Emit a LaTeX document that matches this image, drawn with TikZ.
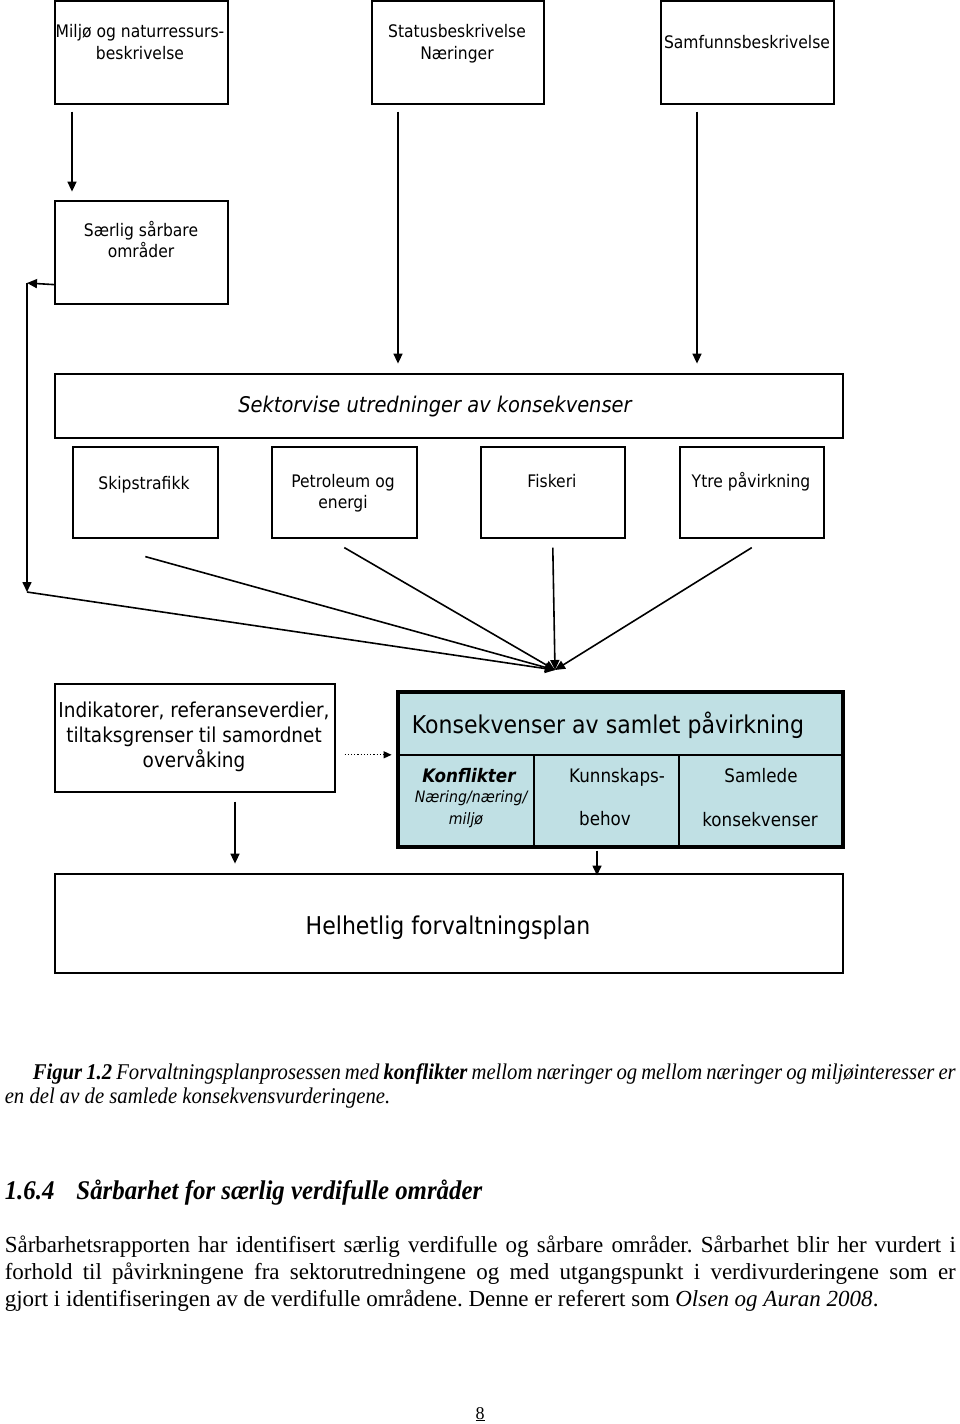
\documentclass[tikz,border=0pt]{standalone}
\usepackage{fontspec}
\setmainfont{Liberation Serif}
\newfontfamily\boxfont[FakeStretch=0.9]{DejaVu Sans}
\newfontfamily\capfont[FakeStretch=0.92]{Liberation Serif}
\usetikzlibrary{arrows.meta}
\definecolor{konsblue}{RGB}{192,224,228}
\frenchspacing

\begin{document}
\begin{tikzpicture}[x=1pt, y=-1pt, line width=1.6pt,
    box/.style={draw, anchor=north west, inner sep=0pt},
    lbl/.style={font=\boxfont\fontsize{17.3}{21}\selectfont, align=center, inner sep=0pt, anchor=base},
    big/.style={font=\boxfont\fontsize{24.5}{30}\selectfont, inner sep=0pt, anchor=base},
    cell/.style={font=\boxfont\fontsize{18.6}{23}\selectfont, inner sep=0pt, anchor=base},
    body/.style={font=\fontsize{23}{27}\selectfont, inner sep=0pt, anchor=base west},
    captext/.style={font=\capfont\fontsize{22.5}{24}\selectfont\itshape, inner sep=0pt, anchor=base west},
    arr/.style={-{Triangle[length=10pt,width=9pt]}}]
  \useasboundingbox (0,0) rectangle (960,1424);

  % top row
  \node[box, minimum width=173pt, minimum height=103pt] (miljo) at (54,0) {};
  \node[box, minimum width=172pt, minimum height=103pt] (status) at (371,0) {};
  \node[box, minimum width=173pt, minimum height=103pt] (samf) at (660,0) {};
  \node[box, minimum width=173pt, minimum height=103pt] (saerlig) at (54,200) {};
  \node[lbl] (miljoT) at (140,59) {Miljø og naturressurs-\\beskrivelse};
  \node[lbl] (statusT) at (457,59) {Statusbeskrivelse\\Næringer};
  \node[lbl] (samfT) at (747,48) {Samfunnsbeskrivelse};
  \node[lbl] (saerligT) at (141,257) {Særlig sårbare\\områder};

  % sectors
  \node[box, minimum width=788pt, minimum height=64pt] (sekt) at (54,373) {};
  \node[big, font=\boxfont\itshape\fontsize{21.6}{26}\selectfont] (sektT) at (435,412) {Sektorvise utredninger av konsekvenser};
  \node[box, minimum width=145pt, minimum height=91pt] (skip) at (72,446) {};
  \node[box, minimum width=145pt, minimum height=91pt] (petr) at (271,446) {};
  \node[box, minimum width=144pt, minimum height=91pt] (fisk) at (480,446) {};
  \node[box, minimum width=144pt, minimum height=91pt] (ytre) at (679,446) {};
  \node[lbl] (skipT) at (144,489) {Skipstrafikk};
  \node[lbl] (petrT) at (343,508) {Petroleum og\\energi};
  \node[lbl] (fiskT) at (552,487) {Fiskeri};
  \node[lbl] (ytreT) at (751,487) {Ytre påvirkning};

  % lower part
  \node[box, minimum width=280pt, minimum height=108pt] (ind) at (54,683) {};
  \node[lbl, font=\boxfont\fontsize{20.5}{25}\selectfont] (indT) at (194,767) {Indikatorer, referanseverdier,\\tiltaksgrenser til samordnet\\overvåking};
  \node[box, fill=konsblue, line width=3.5pt, minimum width=445pt, minimum height=155pt] (kons) at (396,690) {};
  \draw (396,755) -- (841,755);
  \draw (534,755) -- (534,845);
  \draw (679,755) -- (679,845);
  \node[big] (konsT) at (608,733) {Konsekvenser av samlet påvirkning};
  \node[cell, font=\boxfont\bfseries\itshape\fontsize{18.6}{23}\selectfont] (konfT) at (469,782) {Konflikter};
  \node[cell, font=\boxfont\itshape\fontsize{15.7}{20}\selectfont] (naerT) at (471,802) {Næring/næring/};
  \node[cell, font=\boxfont\itshape\fontsize{15.7}{20}\selectfont] (miljT) at (466,824) {miljø};
  \node[cell] (kunnT) at (617,782) {Kunnskaps-};
  \node[cell] (behovT) at (605,825) {behov};
  \node[cell] (samlT) at (761,782) {Samlede};
  \node[cell] (konsekT) at (760,826) {konsekvenser};
  \node[box, minimum width=788pt, minimum height=99pt] (helh) at (54,873) {};
  \node[big] (helhT) at (448,934) {Helhetlig forvaltningsplan};

  % connectors
  \coordinate (konv) at (555,670);
  \coordinate (hjorne1) at (27,283);
  \coordinate (hjorne2) at (27,592);
  \draw[arr] ([xshift=18pt,yshift=-7pt]miljo.south west) -- ++(0,80);
  \draw[arr] ([yshift=20pt]saerlig.south west) -- (hjorne1);
  \draw[arr] (hjorne1) -- (hjorne2);
  \draw[arr] (hjorne2) -- (konv);
  \draw[arr] ([xshift=27pt,yshift=-7pt]status.south west) -- ++(0,252);
  \draw[arr] ([xshift=37pt,yshift=-7pt]samf.south west) -- ++(0,252);
  \draw[arr] ([yshift=-18pt]skip.south) -- (konv);
  \draw[arr] ([yshift=-9pt]petr.south) -- (konv);
  \draw[arr] ([yshift=-9pt]fisk.south) -- (konv);
  \draw[arr] ([yshift=-9pt]ytre.south) -- (konv);
  \draw[-{Triangle[length=8pt,width=7pt]}, dotted, line width=1.2pt] ([xshift=9pt,yshift=-17pt]ind.east) -- ++(47,0);
  \draw[arr] ([xshift=181pt,yshift=-9pt]ind.south west) -- ++(0,62);
  \draw[arr] ([xshift=201pt,yshift=-2pt]kons.south west) -- ++(0,25);

  % text below the figure
  \node[captext] (cap1) at (32,1079) {\makebox[923pt][s]{\textbf{Figur 1.2} Forvaltningsplanprosessen med \textbf{konflikter} mellom næringer og mellom næringer og miljøinteresser er}};
  \node[captext] (cap2) at (4,1103) {en del av de samlede konsekvensvurderingene.};
  \node[body, font=\capfont\bfseries\itshape\fontsize{27}{30}\selectfont] (head) at (4,1199) {1.6.4\hspace{22pt}Sårbarhet for særlig verdifulle områder};
  \node[body] (txt1) at (4,1252) {\makebox[951pt][s]{Sårbarhetsrapporten har identifisert særlig verdifulle og sårbare områder. Sårbarhet blir her vurdert i}};
  \node[body] (txt2) at (4,1279) {\makebox[951pt][s]{forhold til påvirkningene fra sektorutredningene og med utgangspunkt i verdivurderingene som er}};
  \node[body] (txt3) at (4,1306) {gjort i identifiseringen av de verdifulle områdene. Denne er referert som \textit{Olsen og Auran 2008}.};
  \node[body, anchor=base, font=\fontsize{18}{20}\selectfont] (side) at (480,1419) {\underline{8}};
\end{tikzpicture}
\end{document}
